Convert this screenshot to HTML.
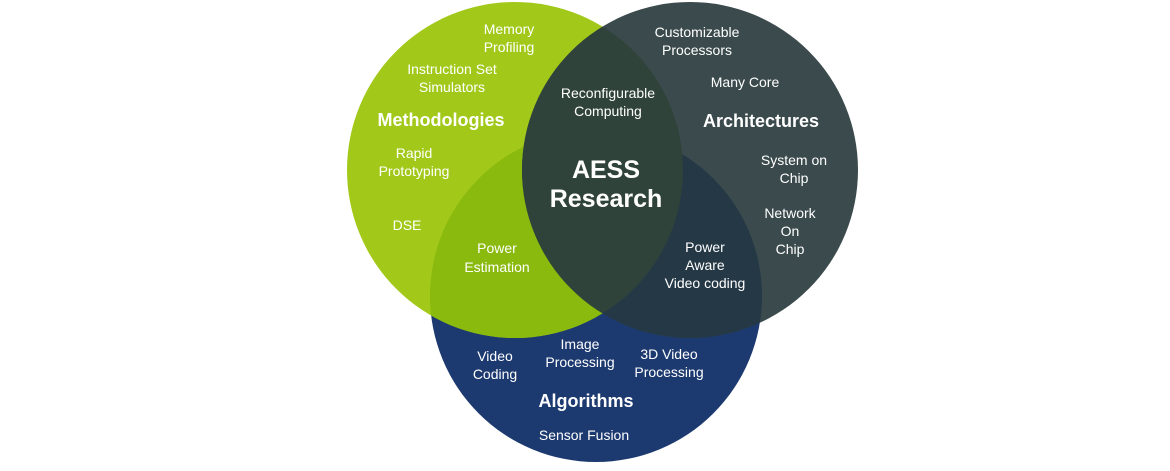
<!DOCTYPE html>
<html><head><style>
body{margin:0;background:#fff;}
svg text{font-family:"Liberation Sans",sans-serif;fill:#fff;text-anchor:middle;}
</style></head><body>
<svg width="1170" height="466" viewBox="0 0 1170 466">
<defs>
<clipPath id="cg"><circle cx="515" cy="170" r="168"/></clipPath>
<clipPath id="ck"><circle cx="690" cy="170" r="168"/></clipPath>
</defs>
<circle cx="596" cy="296" r="166" fill="#1d3a70"/>
<circle cx="515" cy="170" r="168" fill="#a2c91a"/>
<circle cx="690" cy="170" r="168" fill="#3b4a4c"/>
<circle cx="596" cy="296" r="166" fill="#8aba0e" clip-path="url(#cg)"/>
<circle cx="596" cy="296" r="166" fill="#243846" clip-path="url(#ck)"/>
<circle cx="515" cy="170" r="168" fill="#30433a" clip-path="url(#ck)"/>
<g font-size="14">
<text x="509" y="34">Memory</text><text x="509" y="52">Profiling</text>
<text x="452" y="74">Instruction Set</text><text x="452" y="92">Simulators</text>
<text x="414" y="158">Rapid</text><text x="414" y="176">Prototyping</text>
<text x="407" y="230">DSE</text>
<text x="608" y="98">Reconfigurable</text><text x="608" y="116">Computing</text>
<text x="697" y="37">Customizable</text><text x="697" y="55">Processors</text>
<text x="745" y="87">Many Core</text>
<text x="794" y="165">System on</text><text x="794" y="183">Chip</text>
<text x="790" y="218">Network</text><text x="790" y="236">On</text><text x="790" y="254">Chip</text>
<text x="497" y="253">Power</text><text x="497" y="272">Estimation</text>
<text x="705" y="252">Power</text><text x="705" y="270">Aware</text><text x="705" y="288">Video coding</text>
<text x="495" y="361">Video</text><text x="495" y="379">Coding</text>
<text x="580" y="349">Image</text><text x="580" y="367">Processing</text>
<text x="669" y="359">3D Video</text><text x="669" y="377">Processing</text>
<text x="584" y="440">Sensor Fusion</text>
</g>
<g font-size="18" font-weight="bold">
<text x="441" y="126">Methodologies</text>
<text x="761" y="127">Architectures</text>
<text x="586" y="407">Algorithms</text>
</g>
<g font-size="25" font-weight="bold">
<text x="606" y="178">AESS</text><text x="606" y="207">Research</text>
</g>
</svg>
</body></html>
